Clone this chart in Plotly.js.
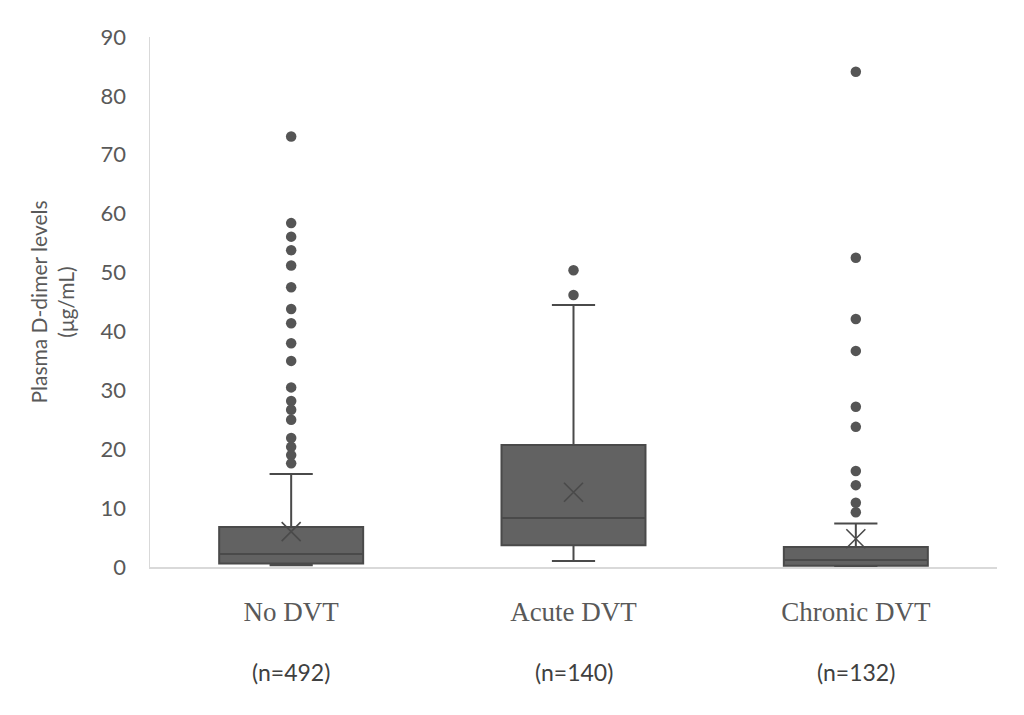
<!DOCTYPE html>
<html>
<head>
<meta charset="utf-8">
<script src="https://cdn.plot.ly/plotly-3.0.1.min.js"></script>
<style>html,body{margin:0;padding:0;background:#fff;}#chart{width:1024px;height:715px;}</style>
</head>
<body>
<div id="chart"></div>
<script>
const categories = ['No DVT', 'Acute DVT', 'Chronic DVT'];
const counts = ['(n=492)', '(n=140)', '(n=132)'];
const q1 = [0.6, 3.7, 0.2];
const median = [2.2, 8.3, 1.2];
const q3 = [6.8, 20.7, 3.4];
const lowerFence = [0.3, 1.0, 0.1];
const upperFence = [15.8, 44.5, 7.4];
const means = [6.0, 12.7, 4.8];
const outliersNoDVT = [73.1, 58.4, 56.1, 53.8, 51.2, 47.5, 43.8, 41.4, 38.0, 35.0, 30.5, 28.2, 26.7, 25.0, 21.9, 20.4, 19.0, 17.6];
const outliersAcute = [50.4, 46.2];
const outliersChronic = [84.1, 52.5, 42.1, 36.7, 27.2, 23.8, 16.3, 13.9, 10.9, 9.3];
const yTicks = [0, 10, 20, 30, 40, 50, 60, 70, 80, 90];

const outX = [], outY = [];
[[outliersNoDVT, 0], [outliersAcute, 1], [outliersChronic, 2]].forEach(([arr, i]) => {
  arr.forEach(v => { outX.push(categories[i]); outY.push(v); });
});

const traces = [
  {
    type: 'box',
    x: categories,
    q1: q1, median: median, q3: q3,
    lowerfence: lowerFence, upperfence: upperFence,
    boxpoints: false,
    fillcolor: '#626262',
    line: {color: '#4a4a4a', width: 2},
    whiskerwidth: 0.3,
    width: 0.51,
    hoverinfo: 'skip',
    showlegend: false
  },
  {
    type: 'scatter', mode: 'markers',
    x: outX, y: outY,
    marker: {symbol: 'circle', size: 10.5, color: '#555555'},
    hoverinfo: 'skip', showlegend: false
  },
  {
    type: 'scatter', mode: 'markers',
    x: categories, y: means,
    marker: {symbol: 'x-thin-open', size: 19, color: '#4a4a4a', line: {color: '#4a4a4a', width: 1.6}},
    hoverinfo: 'skip', showlegend: false
  }
];

const plotH = 715 - 37 - 148;
const layout = {
  width: 1024, height: 715,
  margin: {l: 150, r: 27, t: 37, b: 148},
  paper_bgcolor: '#ffffff', plot_bgcolor: '#ffffff',
  showlegend: false,
  xaxis: {
    type: 'category',
    categoryorder: 'array', categoryarray: categories,
    range: [-0.5, 2.5],
    showline: true, linecolor: '#d9d9d9', linewidth: 1.5,
    showgrid: false, zeroline: false, ticks: '',
    tickfont: {family: '"Liberation Serif", "DejaVu Serif", serif', size: 27, color: '#595959'},
    ticklabelstandoff: 20
  },
  yaxis: {
    range: [0, 90],
    tickvals: yTicks,
    showline: true, linecolor: '#d9d9d9', linewidth: 1.5,
    showgrid: false, zeroline: false, ticks: '',
    tickfont: {family: 'Lato, "Open Sans", sans-serif', size: 22, color: '#595959'},
    ticklabelstandoff: 18,
    title: {
      text: 'Plasma D-dimer levels<br>(μg/mL)',
      font: {family: 'Lato, "Open Sans", sans-serif', size: 21, color: '#595959'},
      standoff: 20
    }
  },
  annotations: categories.map((c, i) => ({
    x: c, xref: 'x', y: (715 - 148 - 672) / plotH, yref: 'paper', yanchor: 'middle',
    text: counts[i], showarrow: false,
    font: {family: 'Lato, "Open Sans", sans-serif', size: 23, color: '#404040'}
  }))
};

Plotly.newPlot('chart', traces, layout, {displayModeBar: false, staticPlot: true});
</script>
</body>
</html>
